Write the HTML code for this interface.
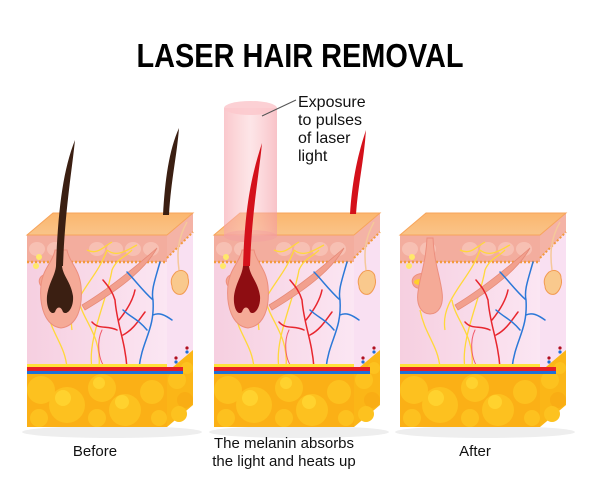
<!DOCTYPE html>
<html><head><meta charset="utf-8"><style>
html,body{margin:0;padding:0;background:#fff;width:600px;height:501px;overflow:hidden}
svg{display:block}
text{font-family:"Liberation Sans",sans-serif}
</style></head><body>
<svg width="600" height="501" viewBox="0 0 600 501" xmlns="http://www.w3.org/2000/svg">
<defs>
<linearGradient id="derm" x1="0" x2="1"><stop offset="0" stop-color="#f6cfe0"/><stop offset="1" stop-color="#fbe6f3"/></linearGradient>
<linearGradient id="top" x1="0" y1="0" x2="0" y2="1"><stop offset="0" stop-color="#fbb66e"/><stop offset="1" stop-color="#f9c489"/></linearGradient>
<linearGradient id="laser" x1="0" x2="1"><stop offset="0" stop-color="#f7a3aa" stop-opacity=".6"/><stop offset=".5" stop-color="#fbc6cb" stop-opacity=".45"/><stop offset="1" stop-color="#f49aa3" stop-opacity=".6"/></linearGradient>
<g id="block">
  <ellipse cx="85" cy="432" rx="90" ry="6" fill="#eee"/>
  <polygon points="140,235 166,213 166,350 140,372" fill="#f9e0f2"/>
  <polygon points="140,372 166,350 166,405 140,427" fill="#fbb617"/>
  <circle cx="150" cy="380" r="9" fill="#fdc21f"/><circle cx="158" cy="400" r="8" fill="#f9ad14"/><circle cx="152" cy="414" r="8" fill="#fdc21f"/><circle cx="160" cy="368" r="6" fill="#fdc21f"/>
  <polygon points="140,235 166,213 166,232 140,258" fill="#f4b3a6"/>
  <rect x="0" y="235" width="140" height="137" fill="url(#derm)"/>
  <rect x="0" y="235" width="140" height="27" fill="#f3ad9e"/>
  <g fill="#f7c0b3"><ellipse cx="10" cy="249" rx="8" ry="7"/><ellipse cx="28" cy="249" rx="8" ry="7"/><ellipse cx="70" cy="249" rx="8" ry="7"/><ellipse cx="88" cy="249" rx="8" ry="7"/><ellipse cx="106" cy="249" rx="8" ry="7"/><ellipse cx="124" cy="249" rx="8" ry="7"/></g>
  <line x1="0" y1="262" x2="140" y2="262" stroke="#f39a3c" stroke-width="2.5" stroke-dasharray="2 2"/>
  <line x1="140" y1="258" x2="166" y2="232" stroke="#f39a3c" stroke-width="2" stroke-dasharray="2 2"/>
  <polygon points="0,235 140,235 166,213 26,213" fill="url(#top)" stroke="#f7a45b" stroke-width="1"/>
  <g fill="none" stroke="#ffd83a" stroke-width="1.3">
    <path d="M45,330 C40,300 70,280 80,250 M80,250 C90,258 100,250 110,245 M60,250 C70,255 75,248 85,242"/>
    <path d="M65,368 C60,340 80,300 85,270 C90,258 100,256 105,250"/>
    <path d="M40,368 C38,345 25,335 20,310"/>
    <path d="M72,368 C75,335 55,320 52,300"/>
  </g>
  <path d="M30,275 C18,270 8,278 14,286 C20,292 30,285 34,282 Z" fill="#f5a592" stroke="#ee8e7c"/>
  <ellipse cx="20" cy="282" rx="6" ry="3" fill="#ffd02a"/>
  <circle cx="12" cy="257" r="3" fill="#ffe86a"/><circle cx="9" cy="266" r="3" fill="#ffe86a"/>
  <path d="M55,305 C80,290 105,270 130,248 C120,266 100,285 58,310 Z" fill="#f2a08e" stroke="#e68a78" stroke-width=".8"/>
  <path d="M160,222 C150,240 150,255 152,270" fill="none" stroke="#f5c89a" stroke-width="1.5"/>
  <path d="M149,272 c6,-4 12,0 12,6 c2,6 -2,14 -6,16 c-6,2 -10,-4 -10,-8 c-2,-6 0,-10 4,-14z" fill="#f9c98d" stroke="#f29a50"/>
  <g fill="none" stroke-linecap="round">
    <path d="M100,368 C98,340 90,325 88,300 M92,320 C100,310 106,300 108,290 M88,300 C85,290 80,285 76,280 M96,335 C106,330 112,320 118,312 M90,330 C80,325 72,330 65,322" stroke="#e8262e" stroke-width="1.5"/>
    <path d="M112,368 C115,340 128,330 126,300 C124,290 128,280 133,262 M126,300 C115,290 108,280 100,272 M120,330 C112,320 105,318 96,310 M126,315 C132,312 138,315 145,320" stroke="#2b78d8" stroke-width="1.5"/>
    <path d="M80,370 C70,360 70,340 75,330" stroke="#f25a6a" stroke-width="1"/>
  </g>
  <rect x="0" y="364" width="140" height="3" fill="#ffe23a"/>
  <rect x="0" y="367" width="156" height="4" fill="#e61f26"/>
  <rect x="0" y="371" width="156" height="3" fill="#1e6fd9"/>
  <circle cx="160" cy="352" r="1.6" fill="#1e6fd9"/><circle cx="160" cy="348" r="1.6" fill="#b01020"/>
  <circle cx="149" cy="362" r="1.6" fill="#1e6fd9"/><circle cx="149" cy="358" r="1.6" fill="#b01020"/>
  <rect x="0" y="374" width="140" height="53" fill="#fbb016"/>
  <g fill="#fdc11f">
    <circle cx="14" cy="390" r="14"/><circle cx="40" cy="405" r="18"/><circle cx="75" cy="388" r="14"/><circle cx="98" cy="410" r="16"/><circle cx="125" cy="392" r="12"/><circle cx="12" cy="418" r="9"/><circle cx="70" cy="418" r="9"/><circle cx="132" cy="418" r="8"/>
  </g>
  <g fill="#ffd22e"><circle cx="36" cy="398" r="8"/><circle cx="95" cy="402" r="7"/><circle cx="72" cy="383" r="6"/></g>
</g>
</defs>

<text x="300" y="67" text-anchor="middle" font-size="33" font-weight="bold" textLength="327" lengthAdjust="spacingAndGlyphs">LASER HAIR REMOVAL</text>

<g transform="translate(27,0)">
  <use href="#block"/>
  <path d="M14,285 C16,268 26,262 28,250 L40,250 C42,262 52,268 54,286 C56,308 50,326 34,328 C18,326 12,306 14,285Z" fill="#f5aa97" stroke="#ec8f7e"/>
  <path d="M20,296 C22,282 28,276 29,266 L35,266 C36,276 44,282 46,296 C47,308 40,316 36,312 C34,306 30,306 28,312 C24,316 19,308 20,296Z" fill="#3b1f12"/>
  <path d="M29,266 C31,210 36,170 48,140 C45,170 38,210 36,266Z" fill="#3b1f12"/>
  <path d="M136,215 C138,180 142,150 152,128 C150,155 144,180 142,215Z" fill="#3b1f12"/>
</g>

<g transform="translate(214,0)">
  <use href="#block"/>
  <path d="M14,285 C16,268 26,262 28,250 L40,250 C42,262 52,268 54,286 C56,308 50,326 34,328 C18,326 12,306 14,285Z" fill="#f5aa97" stroke="#ec8f7e"/>
  <rect x="10" y="108" width="53" height="128" fill="url(#laser)"/>
  <ellipse cx="36.5" cy="108" rx="26.5" ry="7" fill="#fbc8cc" opacity=".85"/>
  <ellipse cx="36.5" cy="236" rx="26.5" ry="6" fill="#f39aa0" opacity=".4"/>
  <path d="M20,296 C22,282 28,276 29,266 L35,266 C36,276 44,282 46,296 C47,308 40,316 36,312 C34,306 30,306 28,312 C24,316 19,308 20,296Z" fill="#8e0d12"/>
  <path d="M29,266 C31,210 36,180 48,143 C45,175 38,210 36,266Z" fill="#d4111b"/>
  <path d="M136,214 C138,185 142,160 152,130 C150,160 144,185 142,214Z" fill="#d4111b"/>
</g>
<line x1="262" y1="116" x2="296" y2="100" stroke="#555" stroke-width="1"/>
<text font-size="16" fill="#111"><tspan x="298" y="107">Exposure</tspan><tspan x="298" y="125">to pulses</tspan><tspan x="298" y="143">of laser</tspan><tspan x="298" y="161">light</tspan></text>

<g transform="translate(400,0)">
  <use href="#block"/>
  <path d="M18,292 C20,276 26,262 27,238 L33,238 C34,262 40,276 42,292 C44,306 38,314 30,314 C22,314 16,306 18,292Z" fill="#f5aa97" stroke="#ec8f7e"/>
</g>

<text x="95" y="456" text-anchor="middle" font-size="15" fill="#111">Before</text>
<text x="284" y="448" text-anchor="middle" font-size="15" fill="#111">The melanin absorbs</text>
<text x="284" y="466" text-anchor="middle" font-size="15" fill="#111">the light and heats up</text>
<text x="475" y="456" text-anchor="middle" font-size="15" fill="#111">After</text>
</svg>
</body></html>
